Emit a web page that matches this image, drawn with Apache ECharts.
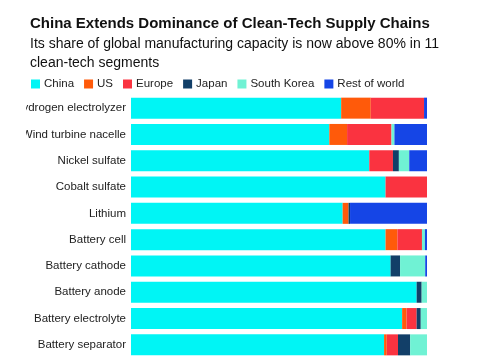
<!DOCTYPE html>
<html>
<head>
<meta charset="utf-8">
<script src="https://cdn.jsdelivr.net/npm/echarts@6/dist/echarts.min.js"></script>
<style>html,body{margin:0;padding:0;background:#fff;overflow:hidden}#c{position:absolute;left:26px;top:0;width:459px;height:360px}</style>
</head>
<body>
<div id="c"></div>
<script>
const categories = ["Hydrogen electrolyzer","Wind turbine nacelle","Nickel sulfate","Cobalt sulfate","Lithium","Battery cell","Battery cathode","Battery anode","Battery electrolyte","Battery separator"];
const china       = [71, 67, 80.5, 86, 71.5, 86, 87.7, 96.5, 91.6, 85.5];
const us          = [10, 6, 0, 0, 2, 4, 0, 0, 1.5, 0.9];
const europe      = [18, 15, 8, 14, 0, 8.3, 0, 0, 3.4, 3.8];
const japan       = [0, 0, 2, 0, 0.5, 0, 3.2, 1.7, 1.4, 4.1];
const southKorea  = [0, 1, 3.5, 0, 0, 1, 8.5, 1.8, 2.1, 5.7];
const restOfWorld = [1, 11, 6, 0, 26, 0.7, 0.6, 0, 0, 0];
const seriesNames = ["China","US","Europe","Japan","South Korea","Rest of world"];
const seriesData = [china, us, europe, japan, southKorea, restOfWorld];
const colors = ["#00f5f5","#ff5a0a","#fa3340","#123f68","#70f2d4","#1545e6"];

const chart = echarts.init(document.getElementById('c'));
chart.setOption({
  backgroundColor: '#fff',
  animation: false,
  color: colors,
  title: [
    {text: 'China Extends Dominance of Clean-Tech Supply Chains', left: 4, top: 16, padding: 0,
     textStyle: {fontFamily: 'Liberation Sans, Arial', fontWeight: 'bold', fontSize: 15, color: '#111'}},
    {text: 'Its share of global manufacturing capacity is now above 80% in 11\nclean-tech segments', left: 4, top: 35, padding: 0,
     textStyle: {fontFamily: 'Liberation Sans, Arial', fontWeight: 'normal', fontSize: 14, lineHeight: 19, color: '#111'}}
  ],
  legend: {
    data: seriesNames, left: 5, top: 78, padding: 0, icon: 'rect', itemWidth: 9, itemHeight: 9, itemGap: 10,
    textStyle: {fontFamily: 'Liberation Sans, Arial', fontSize: 11.5, color: '#222', padding: [0,0,0,-1]}
  },
  grid: {left: 105, right: 58, top: 95, bottom: 2, containLabel: false, outerBoundsMode: 'none'},
  xAxis: {type: 'value', min: 0, max: 100, show: false},
  yAxis: {type: 'category', data: categories, inverse: true,
    axisLine: {show: false}, axisTick: {show: false},
    axisLabel: {margin: 5, fontFamily: 'Liberation Sans, Arial', fontSize: 11.5, color: '#222'}},
  series: seriesNames.map((n, i) => ({
    name: n, type: 'bar', stack: 'total', data: seriesData[i], barWidth: 21
  }))
});
</script>
</body>
</html>
